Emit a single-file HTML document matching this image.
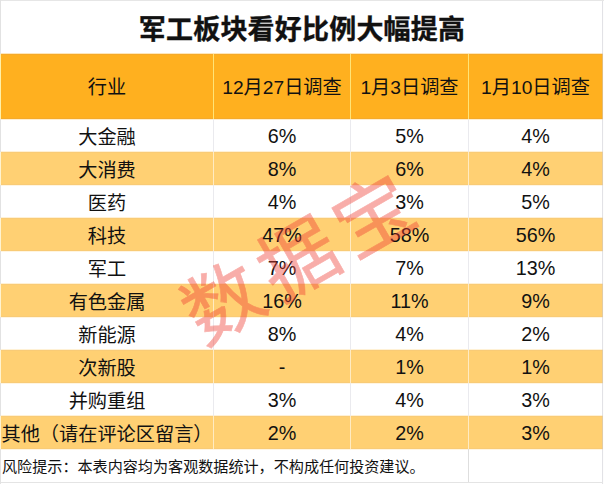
<!DOCTYPE html><html lang="zh-CN"><head><meta charset="utf-8"><title>军工板块看好比例大幅提高</title><style>
html,body{margin:0;padding:0;}
body{width:604px;height:484px;position:relative;overflow:hidden;background:#fff;
 font-family:"Liberation Sans","Noto Sans CJK SC",sans-serif;color:#111;}
.a{position:absolute;}
.c{position:absolute;text-align:center;white-space:nowrap;font-size:19.2px;}
.title{position:absolute;left:0;width:604px;top:8px;-webkit-text-stroke:0.35px #111;height:44px;line-height:44px;text-align:center;
 font-size:27px;letter-spacing:0.2px;font-weight:700;color:#111;font-family:"Liberation Sans","Noto Sans CJK SC",sans-serif;}
.n{font-size:19.8px;}
.hd{background:#FFB01F;}
.lt{background:#FFD073;}
.foot{position:absolute;left:2px;top:450px;height:33px;line-height:33px;font-size:15.1px;white-space:nowrap;color:#111;}
.wm{position:absolute;left:299px;top:260px;width:0;height:0;}
.wm span{position:absolute;left:-200px;width:400px;top:-60px;height:120px;line-height:120px;text-align:center;
 font-size:78px;font-weight:400;letter-spacing:9px;text-indent:9px;color:rgb(240,62,52);-webkit-text-stroke:0.6px rgb(240,62,52);opacity:0.42;
 transform:rotate(-30deg);font-family:"Liberation Sans","Noto Sans CJK SC",sans-serif;white-space:nowrap;}
</style></head><body>
<div class="a" style="left:0;top:0;width:604px;height:1px;background:#e6e6e6"></div>
<div class="a" style="left:0;top:0;width:1px;height:484px;background:#e2e2e2"></div>
<div class="title">军工板块看好比例大幅提高</div>
<div class="a hd" style="left:1px;top:54px;width:602px;height:65px"></div>
<div class="a" style="left:1px;top:53px;width:602px;height:1px;background:rgba(255,176,31,0.3)"></div>
<div class="a" style="left:1px;top:54px;width:602px;height:1px;background:#F5AA2A"></div>
<div class="a" style="left:1px;top:118px;width:602px;height:1px;background:#F5AA2A"></div>
<div class="a" style="left:1px;top:119px;width:602px;height:1px;background:rgba(255,176,31,0.22)"></div>
<div class="a" style="left:0;top:54px;width:1px;height:65px;background:#FFF0A8"></div>
<div class="a lt" style="left:1px;top:152px;width:602px;height:33px"></div>
<div class="a" style="left:1px;top:151px;width:602px;height:1px;background:rgba(255,208,117,0.3)"></div>
<div class="a" style="left:1px;top:152px;width:602px;height:1px;background:#F9CB76"></div>
<div class="a" style="left:1px;top:184px;width:602px;height:1px;background:#F9CB76"></div>
<div class="a" style="left:1px;top:185px;width:602px;height:1px;background:rgba(255,208,117,0.22)"></div>
<div class="a" style="left:0;top:152px;width:1px;height:33px;background:#FFF3D0"></div>
<div class="a lt" style="left:1px;top:218px;width:602px;height:33px"></div>
<div class="a" style="left:1px;top:217px;width:602px;height:1px;background:rgba(255,208,117,0.3)"></div>
<div class="a" style="left:1px;top:218px;width:602px;height:1px;background:#F9CB76"></div>
<div class="a" style="left:1px;top:250px;width:602px;height:1px;background:#F9CB76"></div>
<div class="a" style="left:1px;top:251px;width:602px;height:1px;background:rgba(255,208,117,0.22)"></div>
<div class="a" style="left:0;top:218px;width:1px;height:33px;background:#FFF3D0"></div>
<div class="a lt" style="left:1px;top:284px;width:602px;height:33px"></div>
<div class="a" style="left:1px;top:283px;width:602px;height:1px;background:rgba(255,208,117,0.3)"></div>
<div class="a" style="left:1px;top:284px;width:602px;height:1px;background:#F9CB76"></div>
<div class="a" style="left:1px;top:316px;width:602px;height:1px;background:#F9CB76"></div>
<div class="a" style="left:1px;top:317px;width:602px;height:1px;background:rgba(255,208,117,0.22)"></div>
<div class="a" style="left:0;top:284px;width:1px;height:33px;background:#FFF3D0"></div>
<div class="a lt" style="left:1px;top:350px;width:602px;height:33px"></div>
<div class="a" style="left:1px;top:349px;width:602px;height:1px;background:rgba(255,208,117,0.3)"></div>
<div class="a" style="left:1px;top:350px;width:602px;height:1px;background:#F9CB76"></div>
<div class="a" style="left:1px;top:382px;width:602px;height:1px;background:#F9CB76"></div>
<div class="a" style="left:1px;top:383px;width:602px;height:1px;background:rgba(255,208,117,0.22)"></div>
<div class="a" style="left:0;top:350px;width:1px;height:33px;background:#FFF3D0"></div>
<div class="a lt" style="left:1px;top:416px;width:602px;height:33px"></div>
<div class="a" style="left:1px;top:415px;width:602px;height:1px;background:rgba(255,208,117,0.3)"></div>
<div class="a" style="left:1px;top:416px;width:602px;height:1px;background:#F9CB76"></div>
<div class="a" style="left:1px;top:448px;width:602px;height:1px;background:#F9CB76"></div>
<div class="a" style="left:1px;top:449px;width:602px;height:1px;background:rgba(255,208,117,0.22)"></div>
<div class="a" style="left:0;top:416px;width:1px;height:33px;background:#FFF3D0"></div>
<div class="a" style="left:213px;top:54px;width:1px;height:65px;background:#FFE477"></div>
<div class="a" style="left:213px;top:119px;width:1px;height:33px;background:#eaeaee"></div>
<div class="a" style="left:213px;top:152px;width:1px;height:33px;background:#FFEBC2"></div>
<div class="a" style="left:213px;top:185px;width:1px;height:33px;background:#eaeaee"></div>
<div class="a" style="left:213px;top:218px;width:1px;height:33px;background:#FFEBC2"></div>
<div class="a" style="left:213px;top:251px;width:1px;height:33px;background:#eaeaee"></div>
<div class="a" style="left:213px;top:284px;width:1px;height:33px;background:#FFEBC2"></div>
<div class="a" style="left:213px;top:317px;width:1px;height:33px;background:#eaeaee"></div>
<div class="a" style="left:213px;top:350px;width:1px;height:33px;background:#FFEBC2"></div>
<div class="a" style="left:213px;top:383px;width:1px;height:33px;background:#eaeaee"></div>
<div class="a" style="left:213px;top:416px;width:1px;height:33px;background:#FFEBC2"></div>
<div class="a" style="left:350px;top:54px;width:1px;height:65px;background:#FFE477"></div>
<div class="a" style="left:350px;top:119px;width:1px;height:33px;background:#eaeaee"></div>
<div class="a" style="left:350px;top:152px;width:1px;height:33px;background:#FFEBC2"></div>
<div class="a" style="left:350px;top:185px;width:1px;height:33px;background:#eaeaee"></div>
<div class="a" style="left:350px;top:218px;width:1px;height:33px;background:#FFEBC2"></div>
<div class="a" style="left:350px;top:251px;width:1px;height:33px;background:#eaeaee"></div>
<div class="a" style="left:350px;top:284px;width:1px;height:33px;background:#FFEBC2"></div>
<div class="a" style="left:350px;top:317px;width:1px;height:33px;background:#eaeaee"></div>
<div class="a" style="left:350px;top:350px;width:1px;height:33px;background:#FFEBC2"></div>
<div class="a" style="left:350px;top:383px;width:1px;height:33px;background:#eaeaee"></div>
<div class="a" style="left:350px;top:416px;width:1px;height:33px;background:#FFEBC2"></div>
<div class="a" style="left:468px;top:54px;width:1px;height:65px;background:#FFE477"></div>
<div class="a" style="left:468px;top:119px;width:1px;height:33px;background:#eaeaee"></div>
<div class="a" style="left:468px;top:152px;width:1px;height:33px;background:#FFEBC2"></div>
<div class="a" style="left:468px;top:185px;width:1px;height:33px;background:#eaeaee"></div>
<div class="a" style="left:468px;top:218px;width:1px;height:33px;background:#FFEBC2"></div>
<div class="a" style="left:468px;top:251px;width:1px;height:33px;background:#eaeaee"></div>
<div class="a" style="left:468px;top:284px;width:1px;height:33px;background:#FFEBC2"></div>
<div class="a" style="left:468px;top:317px;width:1px;height:33px;background:#eaeaee"></div>
<div class="a" style="left:468px;top:350px;width:1px;height:33px;background:#FFEBC2"></div>
<div class="a" style="left:468px;top:383px;width:1px;height:33px;background:#eaeaee"></div>
<div class="a" style="left:468px;top:416px;width:1px;height:33px;background:#FFEBC2"></div>
<div class="a" style="left:468px;top:449px;width:1px;height:34px;background:#dedede"></div>
<div class="a" style="left:602px;top:1px;width:1px;height:483px;background:rgba(200,200,208,0.52)"></div>
<div class="a" style="left:603px;top:1px;width:1px;height:483px;background:#fdfdfd"></div>
<div class="a" style="left:1px;top:482px;width:602px;height:1px;background:#e4e4e4"></div>
<div class="c" style="left:1px;width:212px;top:55px;height:65px;line-height:65px">行业</div>
<div class="c" style="left:214px;width:136px;top:55px;height:65px;line-height:65px">12月27日调查</div>
<div class="c" style="left:351px;width:117px;top:55px;height:65px;line-height:65px">1月3日调查</div>
<div class="c" style="left:469px;width:133px;top:55px;height:65px;line-height:65px">1月10日调查</div>
<div class="c" style="left:1px;width:212px;top:121px;height:33px;line-height:33px">大金融</div>
<div class="c n" style="left:214px;width:136px;top:120px;height:33px;line-height:33px">6%</div>
<div class="c n" style="left:351px;width:117px;top:120px;height:33px;line-height:33px">5%</div>
<div class="c n" style="left:469px;width:133px;top:120px;height:33px;line-height:33px">4%</div>
<div class="c" style="left:1px;width:212px;top:154px;height:33px;line-height:33px">大消费</div>
<div class="c n" style="left:214px;width:136px;top:153px;height:33px;line-height:33px">8%</div>
<div class="c n" style="left:351px;width:117px;top:153px;height:33px;line-height:33px">6%</div>
<div class="c n" style="left:469px;width:133px;top:153px;height:33px;line-height:33px">4%</div>
<div class="c" style="left:1px;width:212px;top:187px;height:33px;line-height:33px">医药</div>
<div class="c n" style="left:214px;width:136px;top:186px;height:33px;line-height:33px">4%</div>
<div class="c n" style="left:351px;width:117px;top:186px;height:33px;line-height:33px">3%</div>
<div class="c n" style="left:469px;width:133px;top:186px;height:33px;line-height:33px">5%</div>
<div class="c" style="left:1px;width:212px;top:220px;height:33px;line-height:33px">科技</div>
<div class="c n" style="left:214px;width:136px;top:219px;height:33px;line-height:33px">47%</div>
<div class="c n" style="left:351px;width:117px;top:219px;height:33px;line-height:33px">58%</div>
<div class="c n" style="left:469px;width:133px;top:219px;height:33px;line-height:33px">56%</div>
<div class="c" style="left:1px;width:212px;top:253px;height:33px;line-height:33px">军工</div>
<div class="c n" style="left:214px;width:136px;top:252px;height:33px;line-height:33px">7%</div>
<div class="c n" style="left:351px;width:117px;top:252px;height:33px;line-height:33px">7%</div>
<div class="c n" style="left:469px;width:133px;top:252px;height:33px;line-height:33px">13%</div>
<div class="c" style="left:1px;width:212px;top:286px;height:33px;line-height:33px">有色金属</div>
<div class="c n" style="left:214px;width:136px;top:285px;height:33px;line-height:33px">16%</div>
<div class="c n" style="left:351px;width:117px;top:285px;height:33px;line-height:33px">11%</div>
<div class="c n" style="left:469px;width:133px;top:285px;height:33px;line-height:33px">9%</div>
<div class="c" style="left:1px;width:212px;top:319px;height:33px;line-height:33px">新能源</div>
<div class="c n" style="left:214px;width:136px;top:318px;height:33px;line-height:33px">8%</div>
<div class="c n" style="left:351px;width:117px;top:318px;height:33px;line-height:33px">4%</div>
<div class="c n" style="left:469px;width:133px;top:318px;height:33px;line-height:33px">2%</div>
<div class="c" style="left:1px;width:212px;top:352px;height:33px;line-height:33px">次新股</div>
<div class="c n" style="left:214px;width:136px;top:351px;height:33px;line-height:33px">-</div>
<div class="c n" style="left:351px;width:117px;top:351px;height:33px;line-height:33px">1%</div>
<div class="c n" style="left:469px;width:133px;top:351px;height:33px;line-height:33px">1%</div>
<div class="c" style="left:1px;width:212px;top:385px;height:33px;line-height:33px">并购重组</div>
<div class="c n" style="left:214px;width:136px;top:384px;height:33px;line-height:33px">3%</div>
<div class="c n" style="left:351px;width:117px;top:384px;height:33px;line-height:33px">4%</div>
<div class="c n" style="left:469px;width:133px;top:384px;height:33px;line-height:33px">3%</div>
<div class="c" style="left:1px;width:212px;top:418px;height:33px;line-height:33px">其他（请在评论区留言）</div>
<div class="c n" style="left:214px;width:136px;top:417px;height:33px;line-height:33px">2%</div>
<div class="c n" style="left:351px;width:117px;top:417px;height:33px;line-height:33px">2%</div>
<div class="c n" style="left:469px;width:133px;top:417px;height:33px;line-height:33px">3%</div>
<div class="foot">风险提示：本表内容均为客观数据统计，不构成任何投资建议。</div>
<div class="wm"><span>数据宝</span></div>
</body></html>
